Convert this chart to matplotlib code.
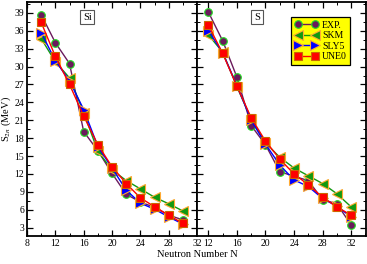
import matplotlib
matplotlib.use('Agg')
from matplotlib import pyplot as plt
from matplotlib.ticker import MultipleLocator

plt.rcParams['font.family'] = ['Liberation Serif', 'DejaVu Serif']
plt.rcParams['mathtext.fontset'] = 'stix'

# Si isotopes, N = 10..30
n_si = [10, 12, 14, 16, 18, 20, 22, 24, 26, 28, 30]
si_exp = [38.7, 34.0, 30.5, 19.1, 15.9, 12.1, 8.6, 7.3, 6.4, 5.1, 4.3]
si_skm = [34.7, 30.8, 28.1, 22.3, 15.8, 12.7, 10.9, 9.5, 8.1, 7.0, 5.8]
si_sly5 = [35.7, 31.0, 27.6, 22.8, 16.6, 13.0, 9.3, 7.1, 6.1, 4.8, 3.6]
si_une0 = [37.4, 31.7, 27.0, 21.7, 16.9, 13.2, 10.4, 8.0, 6.5, 5.1, 3.7]

# S isotopes, N = 12..32
n_s = [12, 14, 16, 18, 20, 22, 24, 26, 28, 30, 32]
s_exp = [39.1, 34.3, 28.2, 20.1, 16.9, 12.4, 11.6, 10.9, 7.7, 7.0, 3.5]
s_skm = [35.3, 32.4, 26.6, 21.2, 17.2, 14.8, 13.0, 11.7, 10.4, 8.7, 6.5]
s_sly5 = [36.0, 32.3, 26.8, 21.0, 17.0, 13.5, 11.0, 9.9, 7.9, 6.6, 4.8]
s_une0 = [36.9, 32.2, 26.7, 21.4, 17.5, 14.5, 12.0, 10.2, 8.1, 6.5, 5.1]

labels = ['EXP.', 'SKM', 'SLY5', 'UNE0']
styles = [
    dict(marker='o', ms=5.5, color='#6b1a5c', mfc='#6b1a5c', mec='#22dd22'),
    dict(marker='<', ms=6.5, color='#119911', mfc='#119911', mec='#ffaa33'),
    dict(marker='>', ms=6.5, color='#0000ff', mfc='#0000ff', mec='#ffaa33'),
    dict(marker='s', ms=5.5, color='#ff0000', mfc='#ff0000', mec='#cc6600'),
]

fig = plt.figure(figsize=(3.67, 2.64), dpi=100)
ax1 = fig.add_axes([0.0736, 0.106, 0.4633, 0.886])
ax2 = fig.add_axes([0.5369, 0.106, 0.4604, 0.886])

panels = [
    (ax1, n_si, [si_exp, si_skm, si_sly5, si_une0], 'Si', (8, 32)),
    (ax2, n_s, [s_exp, s_skm, s_sly5, s_une0], 'S', (10.4, 34.1)),
]

for ax, n, series, name, xl in panels:
    for vals, lab, st in zip(series, labels, styles):
        ax.plot(n, vals, lw=1.0, mew=0.8, label=lab, **st)
    ax.set_xlim(*xl)
    ax.set_ylim(1.6, 40.8)
    ax.xaxis.set_major_locator(MultipleLocator(4))
    ax.xaxis.set_minor_locator(MultipleLocator(2))
    ax.yaxis.set_major_locator(MultipleLocator(3))
    ax.yaxis.set_minor_locator(MultipleLocator(1.5))
    ax.tick_params(which='both', direction='in', top=True, right=True, labelsize=7, pad=2)
    ax.tick_params(which='major', length=4, width=0.9)
    ax.tick_params(which='minor', length=2.2, width=0.7)
    for sp in ax.spines.values():
        sp.set_linewidth(1.3)
    ax.text(0.355, 0.936, name, transform=ax.transAxes, ha='center', va='center', fontsize=7.5,
            bbox=dict(boxstyle='square,pad=0.25', fc='white', ec='#555555', lw=0.8))

ax2.tick_params(axis='y', labelleft=False)
ax1.set_ylabel('S$_{2n}$ (MeV)', fontsize=7.5)
ax1.yaxis.set_label_coords(-0.08, 0.5)
fig.text(0.537, 0.02, 'Neutron Number N', ha='center', va='bottom', fontsize=7.5)

leg = ax2.legend(loc='upper right', fontsize=7, frameon=True, fancybox=False, numpoints=2,
                 handlelength=2.4, handletextpad=0.4, borderpad=0.35, labelspacing=0.15,
                 bbox_to_anchor=(0.935, 0.955))
leg.get_frame().set_facecolor('#ffff00')
leg.get_frame().set_edgecolor('black')
leg.get_frame().set_linewidth(0.9)
leg.get_frame().set_alpha(1)

fig.savefig('out.png', dpi=100)
